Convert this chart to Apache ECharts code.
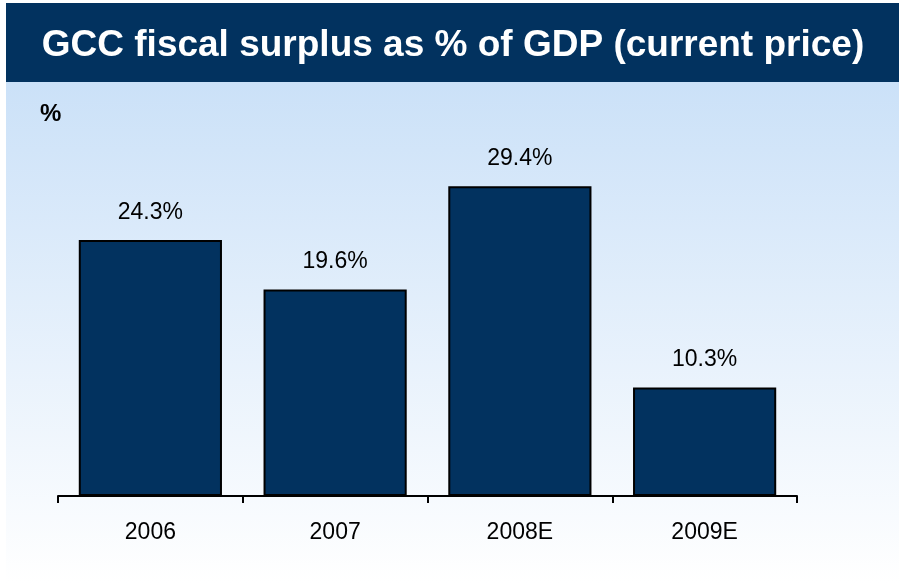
<!DOCTYPE html>
<html>
<head>
<meta charset="utf-8">
<script src="https://cdn.jsdelivr.net/npm/echarts@6/dist/echarts.min.js"></script>
<style>
  html, body { margin: 0; padding: 0; background: #ffffff; }
  #chart { width: 899px; height: 584px; }
</style>
</head>
<body>
<div id="chart"></div>
<script>
// GCC fiscal surplus as % of GDP
const categories = ['2006', '2007', '2008E', '2009E'];
const surplusPct = [24.3, 19.6, 29.4, 10.3];
const titleText = 'GCC fiscal surplus as % of GDP (current price)';
const unitText = '%';

const navy = '#02325f';
const fontFamily = '"Liberation Sans", Arial, sans-serif';
const chart = echarts.init(document.getElementById('chart'), null, { renderer: 'canvas' });

chart.setOption({
  animation: false,
  backgroundColor: '#ffffff',
  graphic: [
    {
      type: 'rect', z: -10, silent: true,
      shape: { x: 6, y: 82, width: 893, height: 502 },
      style: {
        fill: new echarts.graphic.LinearGradient(0, 0, 0, 1, [
          { offset: 0, color: '#cbe1f8' },
          { offset: 1, color: '#ffffff' }
        ])
      }
    },
    {
      type: 'rect', z: -5, silent: true,
      shape: { x: 6, y: 3, width: 893, height: 79 },
      style: { fill: navy }
    },
    {
      type: 'text', z: 5, silent: true,
      x: 453, y: 46,
      style: {
        text: titleText,
        fill: '#ffffff',
        font: 'bold 37px ' + fontFamily,
        align: 'center', verticalAlign: 'middle'
      }
    },
    {
      type: 'text', z: 5, silent: true,
      x: 40, y: 114,
      style: {
        text: unitText,
        fill: '#000000',
        font: 'bold 24px ' + fontFamily,
        align: 'left', verticalAlign: 'middle'
      }
    }
  ],
  grid: { left: 58, right: 102, top: 180, bottom: 88, containLabel: false },
  xAxis: {
    type: 'category',
    data: categories,
    axisLine: { show: true, lineStyle: { color: '#000000', width: 2 } },
    axisTick: { show: true, length: 7, lineStyle: { color: '#000000', width: 2 } },
    axisLabel: { color: '#000000', fontSize: 23, margin: 25, fontFamily: fontFamily }
  },
  yAxis: {
    type: 'value', min: 0, max: 30, show: false,
    splitLine: { show: false }
  },
  series: [{
    type: 'bar',
    data: surplusPct,
    barWidth: '77.5%',
    itemStyle: { color: navy, borderColor: '#000000', borderWidth: 2 },
    label: {
      show: true, position: 'top', distance: 16,
      color: '#000000', fontSize: 23, fontFamily: fontFamily,
      formatter: p => p.value.toFixed(1) + '%'
    }
  }]
});
</script>
</body>
</html>
